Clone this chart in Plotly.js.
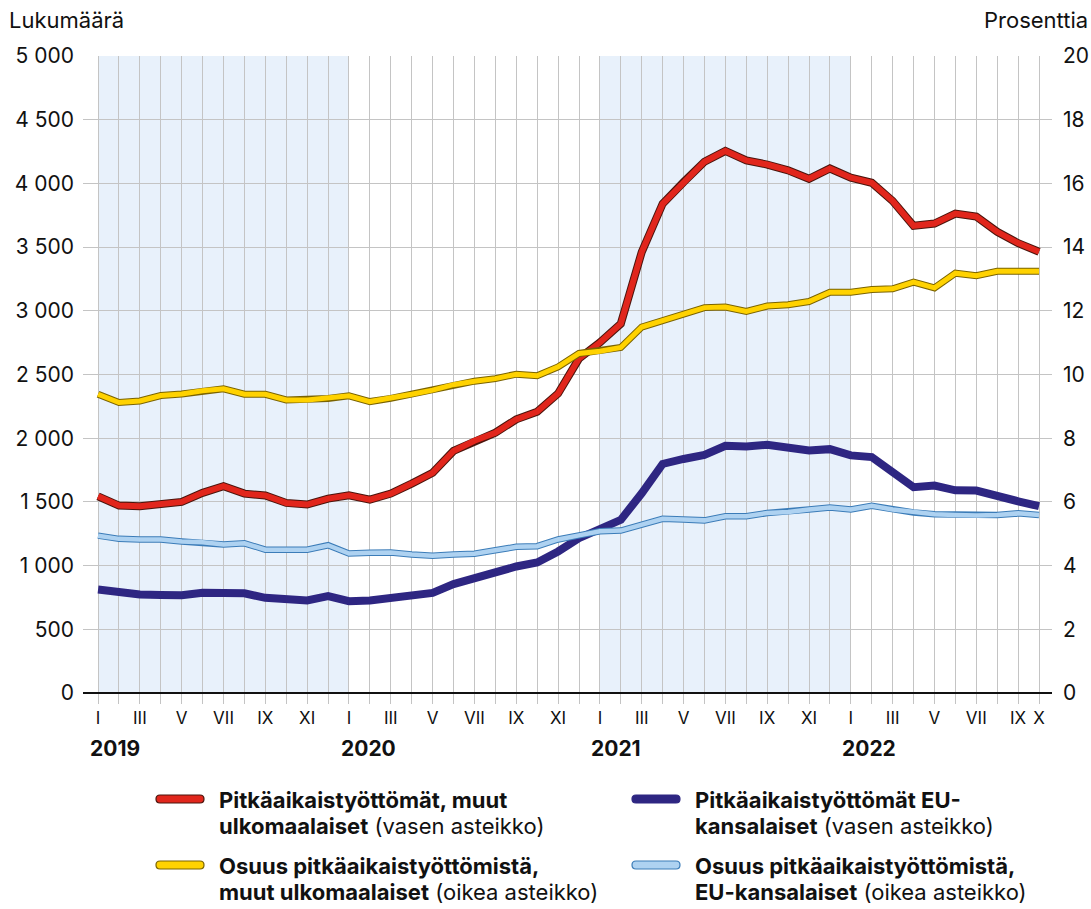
<!DOCTYPE html>
<html>
<head>
<meta charset="utf-8">
<script src="https://cdn.plot.ly/plotly-3.0.1.min.js"></script>
<style>
  html, body { margin: 0; padding: 0; background: #fff; }
  #chart { width: 1091px; height: 909px; }
</style>
</head>
<body>
<div id="chart"></div>
<script>
// months Jan 2019 .. Oct 2022 (index 0..45)
var monthLabels = [
  'I','','III','','V','','VII','','IX','','XI','',
  'I','','III','','V','','VII','','IX','','XI','',
  'I','','III','','V','','VII','','IX','','XI','',
  'I','','III','','V','','VII','','IX','X'
];
var years = ['2019', '2020', '2021', '2022'];
var yearStart = [0, 12, 24, 36];
var shadedYears = [[0, 12], [24, 36]];

// Pitkäaikaistyöttömät, muut ulkomaalaiset (left axis)
var muutLkm = [1544, 1471, 1466, 1484, 1500, 1571, 1623, 1565, 1550, 1492, 1479, 1526,
  1552, 1518, 1565, 1644, 1728, 1900, 1980, 2043, 2148, 2208, 2351, 2625,
  2751, 2899, 3461, 3840, 4010, 4170, 4255, 4180, 4148, 4102, 4036, 4117,
  4045, 4005, 3862, 3667, 3685, 3763, 3740, 3620, 3531, 3464];
// Pitkäaikaistyöttömät EU-kansalaiset (left axis)
var euLkm = [812, 786, 773, 770, 768, 786, 791, 783, 747, 734, 726, 760,
  721, 726, 747, 760, 786, 855, 902, 941, 993, 1025, 1111, 1215,
  1286, 1359, 1568, 1798, 1837, 1868, 1941, 1935, 1948, 1927, 1904, 1914,
  1865, 1852, 1740, 1615, 1628, 1591, 1589, 1539, 1505, 1466];
// Osuus pitkäaikaistyöttömistä, muut ulkomaalaiset (right axis, %)
var muutOsuus = [9.38, 9.12, 9.17, 9.34, 9.39, 9.49, 9.55, 9.38, 9.38, 9.2, 9.2, 9.25,
  9.33, 9.15, 9.25, 9.38, 9.51, 9.68, 9.79, 9.87, 10.01, 9.96, 10.24, 10.66,
  10.73, 10.85, 11.49, 11.7, 11.91, 12.1, 12.12, 11.98, 12.15, 12.19, 12.29, 12.58,
  12.58, 12.67, 12.69, 12.9, 12.72, 13.18, 13.1, 13.24, 13.24, 13.24];
// Osuus pitkäaikaistyöttömistä, EU-kansalaiset (right axis, %)
var euOsuus = [4.94, 4.84, 4.82, 4.82, 4.76, 4.73, 4.66, 4.70, 4.50, 4.50, 4.50, 4.64,
  4.38, 4.40, 4.41, 4.35, 4.31, 4.35, 4.37, 4.48, 4.59, 4.61, 4.82, 4.95,
  5.08, 5.10, 5.29, 5.47, 5.45, 5.42, 5.55, 5.55, 5.65, 5.68, 5.76, 5.82,
  5.76, 5.88, 5.76, 5.67, 5.61, 5.59, 5.57, 5.59, 5.64, 5.59];

var x = monthLabels.map(function (d, i) { return i; });

var FONT = 'Inter, "Liberation Sans", Arial, sans-serif';
var GRID = '#c4c4c4';

// plot box in pixels, for placing titles and the legend
var L = 83, R = 1052, T = 56, B = 693;
function px(p) { return (p - L) / (R - L); }
function py(p) { return (B - p) / (B - T); }

function line(y, axis, color, width) {
  return { x: x, y: y, yaxis: axis, mode: 'lines', showlegend: false, hoverinfo: 'skip',
           line: { color: color, width: width, shape: 'linear' } };
}

var data = [
  line(euLkm, 'y', '#2e2682', 8),
  line(euOsuus, 'y2', '#3b7cb8', 6.5),
  line(euOsuus, 'y2', '#aed2f1', 4.5),
  line(muutOsuus, 'y2', '#7a6300', 7),
  line(muutOsuus, 'y2', '#ffd200', 5),
  line(muutLkm, 'y', '#4a140c', 8),
  line(muutLkm, 'y', '#e1261c', 6)
];

var shapes = shadedYears.map(function (s) {
  return { type: 'rect', xref: 'x', yref: 'paper', x0: s[0], x1: s[1], y0: 0, y1: 1,
           fillcolor: '#e8f1fb', line: { width: 0 }, layer: 'below' };
});

// legend: pill symbols + two text lines each
var pill = 'M 4,-4 L 44,-4 Q 48,-4 48,0 Q 48,4 44,4 L 4,4 Q 0,4 0,0 Q 0,-4 4,-4 Z';
var legendItems = [
  { sx: 156, tx: 217, y: 799, fill: '#e1261c', edge: '#4a140c',
    l1: '<b>Pitkäaikaistyöttömät, muut</b>', l2: '<b>ulkomaalaiset</b> (vasen asteikko)' },
  { sx: 632, tx: 693, y: 799, fill: '#2e2682', edge: '#2e2682',
    l1: '<b>Pitkäaikaistyöttömät EU-</b>', l2: '<b>kansalaiset</b> (vasen asteikko)' },
  { sx: 156, tx: 217, y: 865, fill: '#ffd200', edge: '#7a6300',
    l1: '<b>Osuus pitkäaikaistyöttömistä,</b>', l2: '<b>muut ulkomaalaiset</b> (oikea asteikko)' },
  { sx: 632, tx: 693, y: 865, fill: '#aed2f1', edge: '#3b7cb8',
    l1: '<b>Osuus pitkäaikaistyöttömistä,</b>', l2: '<b>EU-kansalaiset</b> (oikea asteikko)' }
];

var annotations = [
  { xref: 'paper', yref: 'paper', x: px(7), y: py(20), xanchor: 'left', yanchor: 'middle',
    text: 'Lukumäärä', showarrow: false, font: { size: 22 } },
  { xref: 'paper', yref: 'paper', x: px(1090), y: py(20), xanchor: 'right', yanchor: 'middle',
    text: 'Prosenttia', showarrow: false, font: { size: 22 } }
];

years.forEach(function (yr, k) {
  annotations.push({ xref: 'x', yref: 'paper', x: yearStart[k] - 0.5, y: py(748),
    xanchor: 'left', yanchor: 'middle', text: '<b>' + yr + '</b>', showarrow: false,
    font: { size: 21 } });
});

legendItems.forEach(function (it) {
  shapes.push({ type: 'path', xref: 'paper', yref: 'paper', xsizemode: 'pixel', ysizemode: 'pixel',
    xanchor: px(it.sx), yanchor: py(it.y), path: pill, fillcolor: it.fill,
    line: { color: it.edge, width: 1.2 } });
  [it.l1, it.l2].forEach(function (t, j) {
    annotations.push({ xref: 'paper', yref: 'paper', x: px(it.tx), y: py(it.y + 1 + 26 * j),
      xanchor: 'left', yanchor: 'middle', align: 'left', text: t, showarrow: false,
      font: { size: 22 } });
  });
});

var layout = {
  width: 1091, height: 909,
  margin: { l: L, r: 1091 - R, t: T, b: 909 - B, pad: 0 },
  paper_bgcolor: '#fff', plot_bgcolor: 'rgba(0,0,0,0)',
  font: { family: FONT, size: 21, color: '#111' },
  separators: ', ',
  showlegend: false,
  xaxis: {
    range: [-0.72, 45.62], tickmode: 'array', tickvals: x, ticktext: monthLabels,
    showgrid: true, gridcolor: GRID, gridwidth: 1, zeroline: false, showline: false,
    ticks: 'outside', ticklen: 10, tickcolor: GRID, tickwidth: 1,
    tickfont: { size: 17 }, tickangle: 0, fixedrange: true
  },
  yaxis: {
    range: [0, 5000], dtick: 500, tick0: 0, tickformat: ',d',
    showgrid: true, gridcolor: GRID, gridwidth: 1,
    zeroline: true, zerolinecolor: '#111', zerolinewidth: 2,
    ticks: '', ticklabelstandoff: 8, tickfont: { size: 21 }, fixedrange: true
  },
  yaxis2: {
    overlaying: 'y', side: 'right', range: [0, 20], dtick: 2, tick0: 0,
    showgrid: false, zeroline: false, ticks: '', ticklabelstandoff: 10,
    tickfont: { size: 21 }, fixedrange: true
  },
  shapes: shapes,
  annotations: annotations
};

Plotly.newPlot('chart', data, layout, { displayModeBar: false, staticPlot: true });
</script>
</body>
</html>
